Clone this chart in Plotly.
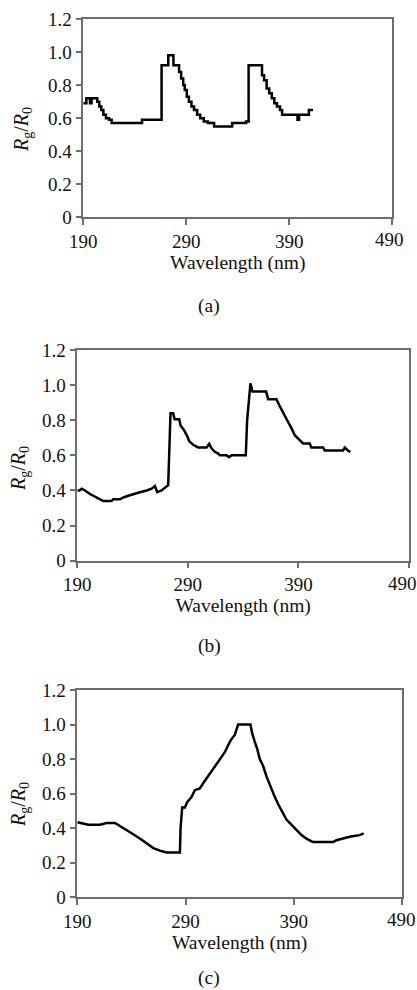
import plotly.graph_objects as go

# ---------------- data ----------------
a_x = [190, 193, 196.5, 198, 203.5, 205.5, 207.5, 209.5, 212, 215, 217.5, 247, 266, 272.5, 277.5,
       283, 285, 287, 288.5, 290.5, 292.5, 295, 297.5, 300.5, 303.5, 307, 311, 317, 334.5, 348,
       350.5, 363.5, 365.5, 368, 370.5, 373, 375.5, 378, 381, 383, 398, 399.5, 409, 413]
a_y = [0.69, 0.72, 0.69, 0.72, 0.70, 0.67, 0.65, 0.62, 0.60, 0.59, 0.57, 0.59, 0.92, 0.98, 0.92,
       0.88, 0.84, 0.80, 0.77, 0.73, 0.70, 0.67, 0.65, 0.62, 0.60, 0.58, 0.57, 0.55, 0.57, 0.58,
       0.92, 0.86, 0.83, 0.78, 0.75, 0.72, 0.69, 0.67, 0.65, 0.62, 0.59, 0.62, 0.65, 0.65]

b_x = [190, 192, 194, 197, 201.5, 206, 210.5, 213.5, 221, 222.5, 228.6, 231.6, 236.1, 240.6, 246.6,
       252.7, 257.2, 260.2, 262.3, 266.2, 270.7, 272.2, 274.3, 276.7, 278, 282.2, 283.4, 286.4, 289.4, 291.2,
       294.8, 299.3, 306.9, 309.3, 311.4, 314.4, 317.5, 319, 325, 327.3, 329.5, 342.4, 343.6, 346.6, 348.4,
       360.8, 362.6, 370.1, 373.1, 376.1, 379.8, 383.7, 386.7, 391.2, 394.2, 400.2, 401.7, 412.3, 413.8, 430.4,
       431.9, 434.9, 437]
b_y = [0.40, 0.40, 0.41, 0.40, 0.38, 0.365, 0.35, 0.34, 0.34, 0.35, 0.35, 0.36, 0.37, 0.38, 0.39,
       0.40, 0.41, 0.425, 0.39, 0.40, 0.42, 0.43, 0.84, 0.84, 0.805, 0.805, 0.77, 0.745, 0.71, 0.68,
       0.66, 0.645, 0.645, 0.665, 0.64, 0.62, 0.61, 0.60, 0.60, 0.59, 0.60, 0.60, 0.80, 1.01, 0.963,
       0.963, 0.92, 0.92, 0.88, 0.84, 0.80, 0.755, 0.715, 0.687, 0.668, 0.668, 0.645, 0.645, 0.627, 0.627,
       0.645, 0.627, 0.62]

c_x = [190, 200.2, 210.9, 217.1, 224.8, 227.8, 232.5, 237.1, 241.7, 247.8, 254, 260.2, 266.3, 272.5, 284.8,
       285.4, 286.9, 289.4, 291.5, 295.5, 298.6, 303.2, 306.3, 310.9, 315.5, 318.6, 323.2, 326.3, 329.4, 331.8,
       335.5, 337.1, 338.6, 350, 351.5, 354, 356.2, 358.6, 361.7, 364.8, 368.5, 372.5, 375.5, 379.5, 383.2,
       387.8, 392.5, 397.1, 401.7, 404.8, 407.8, 426.3, 429.4, 435.5, 441.7, 450.9, 454.6]
c_y = [0.434, 0.42, 0.42, 0.43, 0.43, 0.419, 0.40, 0.38, 0.365, 0.34, 0.31, 0.285, 0.27, 0.26, 0.26,
       0.40, 0.52, 0.52, 0.55, 0.58, 0.62, 0.63, 0.66, 0.70, 0.74, 0.77, 0.81, 0.84, 0.88, 0.91,
       0.94, 0.97, 1.0, 1.0, 0.95, 0.90, 0.86, 0.80, 0.76, 0.70, 0.64, 0.58, 0.54, 0.49, 0.45,
       0.42, 0.39, 0.36, 0.34, 0.33, 0.32, 0.32, 0.33, 0.34, 0.35, 0.36, 0.37]

x_tickvals = [190, 290, 390, 490]
x_ticktext = ["190", "290", "390", "490"]
y_tickvals = [0, 0.2, 0.4, 0.6, 0.8, 1.0, 1.2]
y_ticktext = ["0", "0.2", "0.4", "0.6", "0.8", "1.0", "1.2"]
x_title = "Wavelength (nm)"
y_title = "<i>R</i><sub>g</sub>/<i>R</i><sub>0</sub>"
panel_labels = ["(a)", "(b)", "(c)"]

# ---------------- layout geometry (window pixels) ----------------
W, H = 417, 990
FONT = "Liberation Serif, Times New Roman, serif"
FS = 19
panels = [
    dict(l=83.3, r=392.3, t=19.0, b=217.3, lab=306, ytx=23, yty=130, last_shift=-3),
    dict(l=77.3, r=409.0, t=350.0, b=560.7, lab=646, ytx=19, yty=469, last_shift=-7),
    dict(l=77.3, r=402.0, t=690.0, b=897.3, lab=978, ytx=19, yty=805, last_shift=-1),
]
series = [(a_x, a_y, "hv"), (b_x, b_y, "linear"), (c_x, c_y, "linear")]


def fx(px):
    return px / W


def fy(py):
    return 1 - py / H


fig = go.Figure()
AX_COLOR = "#6e6e6e"
TXT = "#111111"
for i, (p, (xs, ys, shape)) in enumerate(zip(panels, series)):
    n = "" if i == 0 else str(i + 1)
    fig.add_trace(go.Scatter(x=xs, y=ys, mode="lines", line=dict(color="black", width=2.5, shape=shape),
                             xaxis="x" + n, yaxis="y" + n, showlegend=False, hoverinfo="skip"))
    # the last x tick label is drawn as an annotation so it can sit flush with the page edge
    shown = x_ticktext[:-1] + [""]
    xa = dict(domain=[fx(p["l"]), fx(p["r"])], range=[190, 490], anchor="y" + n,
              tickvals=x_tickvals, ticktext=shown, ticks="outside", ticklen=6, tickwidth=1.5,
              tickcolor=AX_COLOR, showline=True, linecolor=AX_COLOR, linewidth=1.5, mirror=True,
              showgrid=False, zeroline=False, automargin=False,
              tickfont=dict(family=FONT, size=FS, color=TXT),
              title=dict(text=x_title, font=dict(family=FONT, size=FS + 0.5, color=TXT), standoff=1))
    ya = dict(domain=[fy(p["b"]), fy(p["t"])], range=[0, 1.2], anchor="x" + n,
              tickvals=y_tickvals, ticktext=y_ticktext, ticks="outside", ticklen=6, tickwidth=1.5,
              tickcolor=AX_COLOR, showline=True, linecolor=AX_COLOR, linewidth=1.5, mirror=True,
              showgrid=False, zeroline=False, automargin=False,
              tickfont=dict(family=FONT, size=FS, color=TXT))
    fig.layout["xaxis" + n] = xa
    fig.layout["yaxis" + n] = ya
    fig.add_annotation(text=x_ticktext[-1], x=x_tickvals[-1], y=0, xref="x" + n, yref="y" + n,
                       xanchor="center", yanchor="top", xshift=p["last_shift"], yshift=-10,
                       showarrow=False, font=dict(family=FONT, size=FS, color=TXT))
    # y-axis title (placed slightly below centre, as in the original)
    fig.add_annotation(text=y_title, x=fx(p["ytx"]), y=fy(p["yty"]), xref="paper", yref="paper",
                       textangle=-90, showarrow=False, xanchor="center", yanchor="middle",
                       font=dict(family=FONT, size=FS + 1, color=TXT))
    fig.add_annotation(text=panel_labels[i], x=fx(209), y=fy(p["lab"]), xref="paper", yref="paper",
                       showarrow=False, xanchor="center", yanchor="middle",
                       font=dict(family=FONT, size=FS + 0.5, color=TXT))

fig.update_layout(width=W, height=H, margin=dict(l=0, r=0, t=0, b=0),
                  paper_bgcolor="white", plot_bgcolor="white", showlegend=False)
fig.write_html("out.html", config={"displayModeBar": False},
               post_script="document.body.style.margin='0';document.body.style.overflow='hidden';")
